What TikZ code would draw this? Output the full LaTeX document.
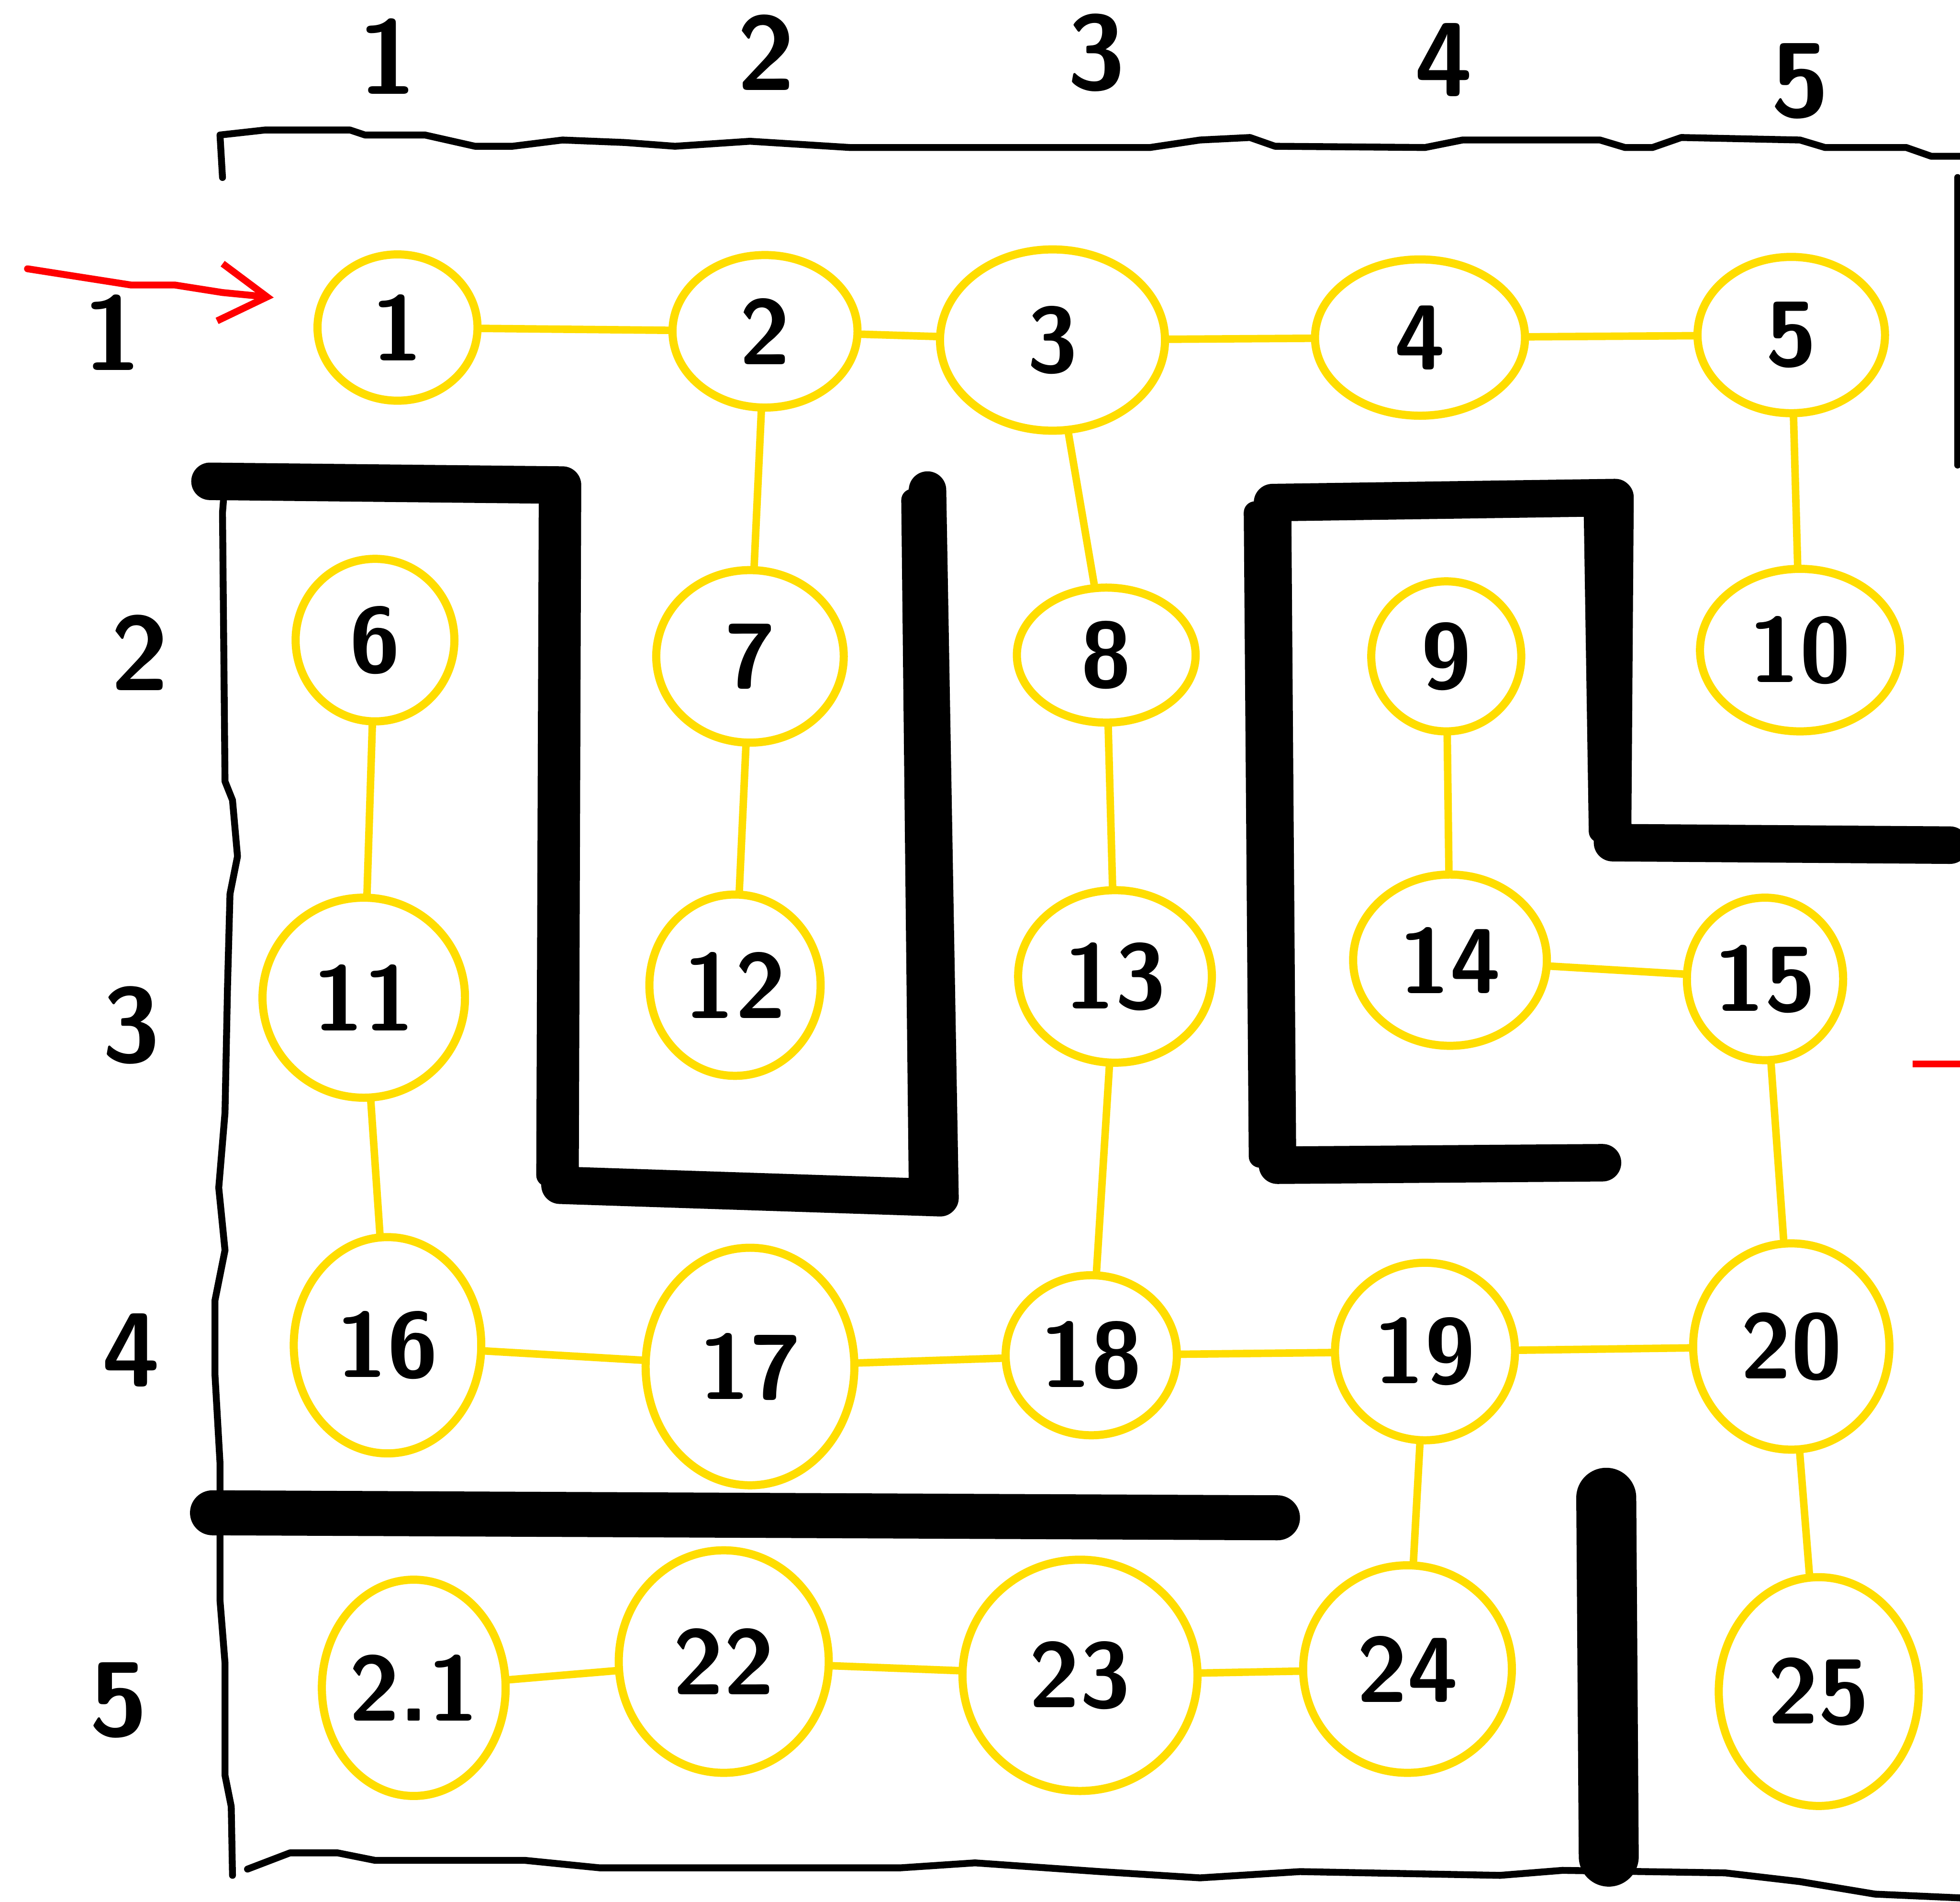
\documentclass[tikz,border=0pt]{standalone}
\usepackage{xcolor}
\usepackage{tikz}
\usetikzlibrary{arrows.meta,shapes.geometric}
\definecolor{marker}{HTML}{FFDD00}
\definecolor{pen}{HTML}{FF0000}
\tikzset{
spot/.style={
draw=marker,
ellipse,
line width=0.65mm,
inner sep=0pt,
font=\sffamily\bfseries\fontsize{21}{24}\selectfont
},
link/.style={
draw=marker,
line width=0.6mm,
line cap=round
},
wall/.style={
line width=3mm,
line cap=round,
line join=round
},
border/.style={
line width=0.55mm,
line cap=round,
line join=round
},
gridlabel/.style={
font=\sffamily\bfseries\fontsize{24}{28}\selectfont
},
arrow/.style={
draw=pen,
line width=0.55mm,
line cap=round,
-{Straight Barb[length=3.8mm,width=4.6mm,line width=0.55mm]}
}
}

\begin{document}
\begin{tikzpicture}[x=0.1mm,y=-0.1mm]
\fill[white](0,0) rectangle (1568,1521);
\useasboundingbox (0,0) rectangle (1568,1521);

% column and row numbers
\foreach \c/\px/\py in {1/310/45,2/613/42,3/877/42,4/1155/48,5/1440/65}
\node[gridlabel](col\c) at (\px,\py){\c};
\foreach \r/\px/\py in {1/90/266,2/112/522,3/105/820,4/105/1080,5/95/1360}
\node[gridlabel](row\r) at (\px,\py){\r};

% outer frame
\draw[border](178,142) -- (176,108) -- (212,104) -- (280,104) -- (292,108) -- (340,108)
-- (380,117) -- (410,117) -- (450,112) -- (500,114) -- (540,117) -- (600,113) -- (680,118)
-- (920,118) -- (960,112) -- (1000,110) -- (1020,117) -- (1140,118) -- (1170,112)
-- (1280,112) -- (1300,118) -- (1322,118) -- (1345,110) -- (1440,112) -- (1460,118)
-- (1525,118) -- (1545,125) -- (1568,125);
\draw[border](180,385) -- (178,410) -- (180,625) -- (186,640) -- (190,685) -- (184,715)
-- (182,790) -- (180,890) -- (175,950) -- (180,1000) -- (172,1040) -- (172,1100)
-- (176,1170) -- (176,1280) -- (180,1330) -- (180,1420) -- (185,1445) -- (186,1500);
\draw[border](198,1495) -- (232,1482) -- (270,1482) -- (300,1488) -- (420,1488)
-- (480,1494) -- (720,1494) -- (780,1490) -- (880,1497) -- (960,1502) -- (1040,1497)
-- (1200,1500) -- (1250,1496) -- (1380,1498) -- (1440,1505) -- (1500,1515) -- (1568,1518);
\draw[border](1566,142) -- (1566,372);

% inner walls
\draw[wall](168,385) -- (450,388) -- (448,948) -- (752,958) -- (742,392);
\draw[wall,line width=1.8mm](440,400) -- (438,940);
\draw[wall,line width=1.8mm](730,400) -- (736,950);
\draw[wall](1282,930) -- (1022,932) -- (1018,402) -- (1292,398) -- (1290,674) -- (1560,676);
\draw[wall,line width=1.8mm](1004,410) -- (1008,925);
\draw[wall,line width=1.8mm](1276,410) -- (1280,665);
\draw[wall,line width=3.6mm](170,1210) -- (1022,1214);
\draw[wall,line width=4.8mm](1285,1198) -- (1287,1485);

% cells
\foreach \n/\px/\py/\w/\h in {
1/318/262/12.8/11.7, 2/612/265/14.8/12.2, 3/842/272/18.0/14.5, 4/1136/270/16.8/12.5,
5/1433/268/15.0/12.5, 6/300/512/12.7/13.0, 7/600/525/15.0/13.8, 8/885/524/14.3/10.8,
9/1157/525/12.0/12.0, 10/1440/520/16.0/13.0, 11/291/798/16.2/16.0, 12/588/788/13.7/14.5,
13/892/781/15.5/13.8, 14/1160/768/15.5/13.7, 15/1412/783/12.5/13.0, 16/310/1076/15.0/17.3,
17/600/1093/16.7/19.0, 18/873/1084/13.7/12.8, 19/1140/1081/14.4/14.2, 20/1433/1077/15.7/16.5,
22/579/1329/16.8/17.8, 23/864/1340/18.8/18.5, 24/1126/1335/16.7/16.6, 25/1455/1353/16.0/18.3}
\node[spot,minimum width=\w mm,minimum height=\h mm](n\n) at (\px,\py){\n};
\node[spot,minimum width=14.7mm,minimum height=17.3mm](n21) at (331,1350){2.1};

\foreach \a/\b in {1/2,2/3,3/4,4/5,2/7,3/8,5/10,6/11,7/12,8/13,9/14,11/16,13/18,14/15,
15/20,16/17,17/18,18/19,19/20,19/24,20/25,21/22,22/23,23/24}
\draw[link](n\a)--(n\b);

% entry and exit
\coordinate (entry) at (22,215);
\coordinate (goal) at (219,238);
\draw[arrow](entry) -- (105,228) -- (140,228) -- (178,234) -- (goal);
\coordinate (exitA) at (1530,851);
\coordinate (exitB) at (1568,851);
\draw[pen,line width=0.55mm](exitA) -- (exitB);
\end{tikzpicture}
\end{document}
